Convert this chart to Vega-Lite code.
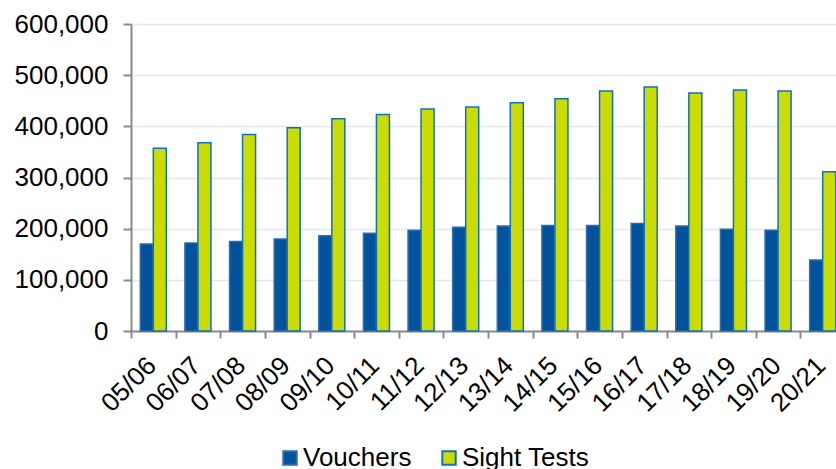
{
  "$schema": "https://vega.github.io/schema/vega-lite/v6.json",
  "autosize": "none",
  "width": 714,
  "height": 307,
  "padding": {"left": 131, "top": 24, "right": 0, "bottom": 138},
  "background": "#ffffff",
  "config": {
    "view": {"stroke": null},
    "font": "Liberation Sans"
  },
  "data": {
    "values": [
      {"period": "05/06", "series": "Vouchers", "value": 170000},
      {"period": "05/06", "series": "Sight Tests", "value": 357000},
      {"period": "06/07", "series": "Vouchers", "value": 172000},
      {"period": "06/07", "series": "Sight Tests", "value": 368000},
      {"period": "07/08", "series": "Vouchers", "value": 175000},
      {"period": "07/08", "series": "Sight Tests", "value": 384000},
      {"period": "08/09", "series": "Vouchers", "value": 180000},
      {"period": "08/09", "series": "Sight Tests", "value": 397000},
      {"period": "09/10", "series": "Vouchers", "value": 186000},
      {"period": "09/10", "series": "Sight Tests", "value": 415000},
      {"period": "10/11", "series": "Vouchers", "value": 191000},
      {"period": "10/11", "series": "Sight Tests", "value": 423000},
      {"period": "11/12", "series": "Vouchers", "value": 197000},
      {"period": "11/12", "series": "Sight Tests", "value": 434000},
      {"period": "12/13", "series": "Vouchers", "value": 203000},
      {"period": "12/13", "series": "Sight Tests", "value": 438000},
      {"period": "13/14", "series": "Vouchers", "value": 205000},
      {"period": "13/14", "series": "Sight Tests", "value": 446000},
      {"period": "14/15", "series": "Vouchers", "value": 206000},
      {"period": "14/15", "series": "Sight Tests", "value": 454000},
      {"period": "15/16", "series": "Vouchers", "value": 206000},
      {"period": "15/16", "series": "Sight Tests", "value": 469000},
      {"period": "16/17", "series": "Vouchers", "value": 210000},
      {"period": "16/17", "series": "Sight Tests", "value": 477000},
      {"period": "17/18", "series": "Vouchers", "value": 205000},
      {"period": "17/18", "series": "Sight Tests", "value": 465000},
      {"period": "18/19", "series": "Vouchers", "value": 199000},
      {"period": "18/19", "series": "Sight Tests", "value": 471000},
      {"period": "19/20", "series": "Vouchers", "value": 197000},
      {"period": "19/20", "series": "Sight Tests", "value": 469000},
      {"period": "20/21", "series": "Vouchers", "value": 139000},
      {"period": "20/21", "series": "Sight Tests", "value": 311000}
    ]
  },
  "mark": {"type": "bar", "strokeWidth": 1.5},
  "encoding": {
    "x": {
      "field": "period",
      "type": "nominal",
      "sort": null,
      "scale": {"paddingInner": 0, "paddingOuter": 0},
      "axis": {
        "title": null,
        "labelAngle": -45,
        "labelFont": "Liberation Sans",
        "labelFontSize": 26,
        "labelColor": "#000000",
        "tickBand": "extent",
        "grid": false,
        "domainColor": "#8a8a8a",
        "domainWidth": 2,
        "tickColor": "#8a8a8a",
        "tickWidth": 2,
        "tickSize": 7,
        "labelPadding": 14,
        "labelOffset": -11
      }
    },
    "xOffset": {
      "field": "series",
      "type": "nominal",
      "sort": ["Vouchers", "Sight Tests"],
      "scale": {"paddingInner": 0, "paddingOuter": 0.715}
    },
    "y": {
      "field": "value",
      "type": "quantitative",
      "scale": {"domain": [0, 600000], "nice": false},
      "axis": {
        "title": null,
        "values": [0, 100000, 200000, 300000, 400000, 500000, 600000],
        "format": ",d",
        "labelFont": "Liberation Sans",
        "labelFontSize": 26,
        "labelColor": "#000000",
        "gridColor": "#e2e8f3",
        "gridWidth": 1.5,
        "domainColor": "#8a8a8a",
        "domainWidth": 2,
        "tickColor": "#8a8a8a",
        "tickWidth": 2,
        "tickSize": 8,
        "labelPadding": 15
      }
    },
    "fill": {
      "field": "series",
      "type": "nominal",
      "sort": ["Vouchers", "Sight Tests"],
      "scale": {"domain": ["Vouchers", "Sight Tests"], "range": ["#03529c", "#cddc00"]},
      "legend": {
        "title": null,
        "orient": "none",
        "direction": "horizontal",
        "legendX": 146,
        "legendY": 421,
        "symbolType": "square",
        "symbolSize": 180,
        "symbolStrokeWidth": 2,
        "labelFontSize": 26,
        "labelFont": "Liberation Sans",
        "labelColor": "#000000",
        "labelOffset": 0,
        "columnPadding": 24
      }
    },
    "stroke": {
      "field": "series",
      "type": "nominal",
      "sort": ["Vouchers", "Sight Tests"],
      "scale": {"domain": ["Vouchers", "Sight Tests"], "range": ["#2e6cb0", "#0a72c4"]},
      "legend": {
        "title": null,
        "orient": "none",
        "direction": "horizontal",
        "legendX": 146,
        "legendY": 421,
        "symbolType": "square",
        "symbolSize": 180,
        "symbolStrokeWidth": 2,
        "labelFontSize": 26,
        "labelFont": "Liberation Sans",
        "labelColor": "#000000",
        "labelOffset": 0,
        "columnPadding": 24
      }
    }
  }
}
